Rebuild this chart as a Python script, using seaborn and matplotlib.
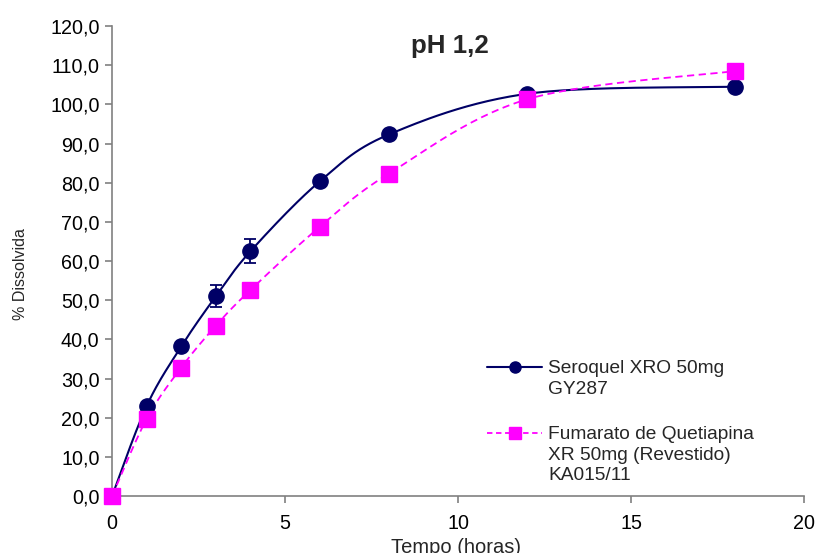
import numpy as np
import pandas as pd
import matplotlib
matplotlib.use("Agg")
import matplotlib.pyplot as plt
from matplotlib.lines import Line2D
import seaborn as sns
from matplotlib.ticker import FuncFormatter, MultipleLocator

# ---- data ----
tempo = [0, 1, 2, 3, 4, 6, 8, 12, 18]
seroquel = [0.0, 23.0, 38.2, 51.0, 62.5, 80.3, 92.3, 102.7, 104.5]
seroquel_err = [0.0, 0.6, 0.8, 2.8, 3.0, 0.8, 0.8, 0.5, 0.5]
fumarato = [0.0, 19.7, 32.8, 43.5, 52.6, 68.7, 82.3, 101.3, 108.5]
label_s = ["Seroquel XRO 50mg", "GY287"]
label_f = ["Fumarato de Quetiapina", "XR 50mg (Revestido)", "KA015/11"]
title = "pH 1,2"
xlabel = "Tempo (horas)"
ylabel = "% Dissolvida"

sns.set_theme(style="white")
plt.rcParams['font.family'] = ['Liberation Sans', 'DejaVu Sans']

def smooth(x, y, sx=34.6, sy=3.917, n=30):
    # Catmull-Rom spline (Excel-like smoothed line) in display-scaled space
    P = np.column_stack([np.asarray(x, float) * sx, np.asarray(y, float) * sy])
    P = np.vstack([P[0], P, P[-1]])
    out = []
    for i in range(1, len(P) - 2):
        p0, p1, p2, p3 = P[i - 1], P[i], P[i + 1], P[i + 2]
        t = np.linspace(0, 1, n)[:, None]
        c = 0.5 * ((2 * p1) + (-p0 + p2) * t + (2 * p0 - 5 * p1 + 4 * p2 - p3) * t ** 2
                   + (-p0 + 3 * p1 - 3 * p2 + p3) * t ** 3)
        out.append(c if i == 1 else c[1:])
    out = np.vstack(out)
    return out[:, 0] / sx, out[:, 1] / sy

navy = "#000066"
magenta = "#FF00FF"

fig = plt.figure(figsize=(8.18, 5.53), dpi=100)
ax = fig.add_axes([0.137, 0.103, 0.846, 0.850])

sx, sy = smooth(tempo, seroquel)
fx, fy = smooth(tempo, fumarato)
df_s = pd.DataFrame({"x": sx, "y": sy})
df_f = pd.DataFrame({"x": fx, "y": fy})
sns.lineplot(data=df_s, x="x", y="y", ax=ax, color=navy, lw=1.5, sort=False, estimator=None)
sns.lineplot(data=df_f, x="x", y="y", ax=ax, color=magenta, lw=1.3, sort=False, estimator=None,
             linestyle=(0, (4, 2.5)))

ax.errorbar(tempo, seroquel, yerr=seroquel_err, fmt="none", ecolor=navy, elinewidth=1.3,
            capsize=4, capthick=1.3, zorder=3)
ax.plot(tempo, seroquel, "o", color=navy, ms=11, zorder=4, clip_on=False)
ax.plot(tempo, fumarato, "s", color=magenta, ms=12, zorder=5, clip_on=False)

ax.set_xlim(0, 20)
ax.set_ylim(0, 120)
ax.xaxis.set_major_locator(MultipleLocator(5))
ax.yaxis.set_major_locator(MultipleLocator(10))
ax.yaxis.set_major_formatter(FuncFormatter(lambda v, p: f"{v:.1f}".replace(".", ",")))
for s in ["top", "right"]:
    ax.spines[s].set_visible(False)
for s in ["left", "bottom"]:
    ax.spines[s].set_color("#808080")
    ax.spines[s].set_linewidth(1.2)
ax.tick_params(axis="both", direction="out", length=5, width=1.2, color="#808080",
               labelsize=14.2, labelcolor="black", pad=4, bottom=True, left=True)
ax.tick_params(axis="x", pad=8)
ax.set_xlabel(xlabel, fontsize=14.5)
ax.set_ylabel(ylabel, fontsize=11.5)
ax.xaxis.set_label_coords(0.497, -0.089)
ax.yaxis.set_label_coords(-0.122, 0.473)

ax.text(9.75, 115, title, fontsize=18.6, fontweight="bold", ha="center", va="center")

h1 = Line2D([], [], marker="o", color=navy, lw=1.5, ms=8)
h2 = Line2D([], [], marker="s", color=magenta, ms=8, ls=(0, (3, 2)), lw=1.3)
blank = Line2D([], [], ls="none", marker="none")
handles = [h1, blank, blank, h2, blank, blank]
leg_labels = [label_s[0], label_s[1], " ", label_f[0], label_f[1], label_f[2]]
leg = ax.legend(handles, leg_labels, loc="upper left", bbox_to_anchor=(487 / 818, 1 - 360 / 553),
                bbox_transform=fig.transFigure, frameon=False, borderpad=0, borderaxespad=0,
                fontsize=13.8, handlelength=2.87, handletextpad=0.32, labelspacing=0.16)
leg.get_texts()[2].set_fontsize(17)
fig.savefig("out.png", dpi=100)
